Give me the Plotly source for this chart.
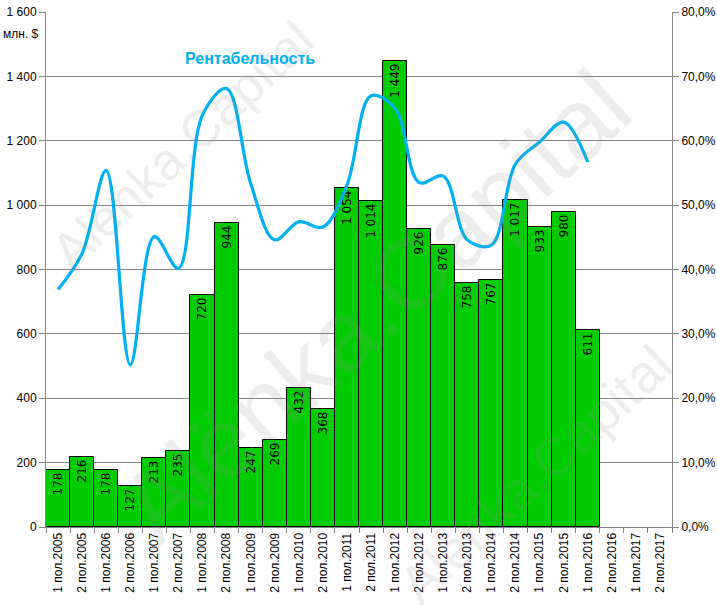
import plotly.graph_objects as go

categories = [f"{h} пол.{y}" for y in range(2005, 2018) for h in (1, 2)]
revenue = [178, 216, 178, 127, 213, 235, 720, 944, 247, 269, 432, 368,
           1054, 1014, 1449, 926, 876, 758, 767, 1017, 933, 980, 611]
profitability = [0.369, 0.425, 0.554, 0.252, 0.451, 0.402, 0.640, 0.681,
                 0.534, 0.446, 0.474, 0.466, 0.531, 0.670, 0.650, 0.535,
                 0.545, 0.446, 0.438, 0.564, 0.598, 0.629, 0.567]
left_ticks = [0, 200, 400, 600, 800, 1000, 1200, 1400, 1600]
right_ticks = [0, 0.1, 0.2, 0.3, 0.4, 0.5, 0.6, 0.7, 0.8]

def fmt_thousands(v):
    return f"{v:,}".replace(",", " ")

left_text = [fmt_thousands(v) for v in left_ticks]
right_text = [f"{v*100:.1f}%".replace(".", ",") for v in right_ticks]

FONT = "Liberation Sans"
GRID = "#868686"

fig = go.Figure()
fig.add_trace(go.Bar(
    x=categories[:len(revenue)], y=revenue,
    marker=dict(color="#00CC00", line=dict(color="black", width=1)),
    text=[fmt_thousands(v) for v in revenue],
    textposition="inside", insidetextanchor="end", textangle=-90,
    constraintext="none",
    insidetextfont=dict(family="DejaVu Sans", size=12, color="black"),
    showlegend=False,
))
fig.add_trace(go.Scatter(
    x=categories[:len(profitability)], y=profitability, yaxis="y2",
    mode="lines", line=dict(color="#00B0F0", width=3.2, shape="spline", smoothing=1.0),
    showlegend=False,
))

# plot area in window coords: x 46..671.7, y 12..527
pw, ph, l, t = 625.7, 515.0, 46.0, 12.0
def px(x, y):
    return (x - l) / pw, (t + ph - y) / ph

annots = []
for (cx, cy, size, ang) in [(182, 146, 52, -43), (374, 306, 100, -42), (535, 474, 54, -43)]:
    xx, yy = px(cx, cy)
    annots.append(dict(xref="paper", yref="paper", x=xx, y=yy, xanchor="center", yanchor="middle",
                       showarrow=False, text="Alënka.Capital", textangle=ang,
                       font=dict(family=FONT, size=size, color="rgba(147,147,147,0.17)")))

tx, ty = px(250, 58)
annots.append(dict(xref="paper", yref="paper", x=tx, y=ty, xanchor="center", yanchor="middle",
                   showarrow=False, text="<b>Рентабельность</b>",
                   font=dict(family=FONT, size=16, color="#00B0F0")))
mx, my = px(41, 34)
annots.append(dict(xref="paper", yref="paper", x=mx, y=my, xanchor="right", yanchor="middle",
                   showarrow=False, text="млн. $", font=dict(family=FONT, size=12, color="black")))

fig.update_layout(
    width=717, height=605,
    margin=dict(l=46, r=45, t=12, b=78, autoexpand=False),
    paper_bgcolor="white", plot_bgcolor="white",
    bargap=0,
    font=dict(family=FONT, size=12, color="black"),
    annotations=annots,
    xaxis=dict(type="category", categoryorder="array", categoryarray=categories,
               range=[-0.5, len(categories) - 0.5], automargin=False,
               tickson="boundaries", ticks="outside", ticklen=5, tickcolor=GRID,
               showline=True, linecolor=GRID, linewidth=1, tickangle=-90,
               showgrid=False, tickfont=dict(size=12)),
    yaxis=dict(range=[0, 1600], tickvals=left_ticks, ticktext=left_text, automargin=False,
               showgrid=True, gridcolor=GRID, gridwidth=1,
               ticks="outside", ticklen=6, tickcolor=GRID,
               showline=True, linecolor=GRID, linewidth=1, zeroline=False),
    yaxis2=dict(range=[0, 0.8], tickvals=right_ticks, ticktext=right_text, automargin=False,
                overlaying="y", side="right", showgrid=False,
                ticks="outside", ticklen=6, tickcolor=GRID,
                showline=True, linecolor=GRID, linewidth=1, zeroline=False),
)
fig.write_html("out.html", config={"displayModeBar": False},
               post_script="document.body.style.margin='0';")
